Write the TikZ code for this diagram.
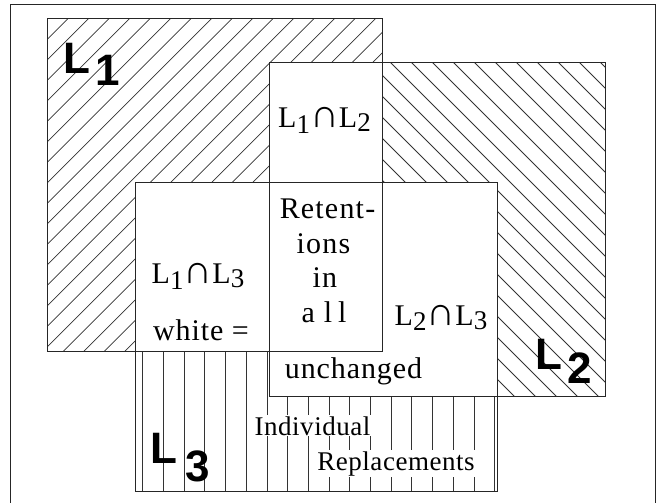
\documentclass[tikz,border=0pt]{standalone}
\usepackage{fontspec}
\setmainfont{Liberation Serif}
\newfontfamily\bigsans{Liberation Sans}
\newfontfamily\spacedA{Liberation Serif}[LetterSpace=3]
\newfontfamily\spacedB{Liberation Serif}[LetterSpace=4]
\newfontfamily\spacedC{Liberation Serif}[LetterSpace=2]
\newcommand\lowdig[2]{\raisebox{-#1pt}{\fontsize{27}{27}\selectfont #2}}
\newcommand\isect{{\fontsize{40}{40}\selectfont ∩}}
\begin{document}
\begin{tikzpicture}[x=1pt,y=-1pt,
  outline/.style={draw=black!85, line width=1pt},
  hatch/.style={draw=black!80, line width=0.75pt},
  txt/.style={font=\spacedA\fontsize{30}{30}\selectfont, inner sep=0pt, anchor=base},
  txtwide/.style={font=\spacedB\fontsize{30}{30}\selectfont, inner sep=0pt, anchor=base},
  txtsmall/.style={font=\spacedC\fontsize{27}{27}\selectfont, inner sep=1pt, anchor=base, fill=white},
  biglab/.style={font=\bigsans\bfseries\fontsize{44}{44}\selectfont, inner sep=0pt, anchor=base}]
\useasboundingbox (0,0) rectangle (659,503);
% outer frame
\draw[outline] (10,504) -- (10,5) -- (655,5) -- (655,504);
% L1-only hatching
\begin{scope}
\clip (47,19) -- (382,19) -- (382,63) -- (269,63) -- (269,182) -- (135,182) -- (135,351) -- (47,351) -- cycle;
\foreach \k in {0,...,33} {\draw[hatch] ({66.2+20.5*\k+60},-60) -- ({66.2+20.5*\k-600},600);}
\end{scope}
% L2-only hatching
\begin{scope}
\clip (382,63) -- (605,63) -- (605,396) -- (497,396) -- (497,182) -- (382,182) -- cycle;
\foreach \k in {0,...,27} {\draw[hatch] ({-29+21*\k-60},-60) -- ({-29+21*\k+600},600);}
\end{scope}
% L3-only hatching
\begin{scope}
\clip (135,351) -- (269,351) -- (269,396) -- (497,396) -- (497,491) -- (135,491) -- cycle;
\foreach \k in {0,...,17} {\draw[hatch] ({142.7+20.7*\k},340) -- ({142.7+20.7*\k},500);}
\end{scope}
% set outlines
\coordinate (a1) at (47,19);  \coordinate (b1) at (382,351);
\coordinate (a2) at (269,63); \coordinate (b2) at (605,396);
\coordinate (a3) at (135,182); \coordinate (b3) at (497,491);
\draw[outline] (a1) rectangle (b1);
\draw[outline] (a2) rectangle (b2);
\draw[outline] (a3) rectangle (b3);
% texts
\node[txt] (t12) at (324.5,127) {L\lowdig{6}{1}\isect L\lowdig{5}{2}};
\node[txtwide] (r1) at (327.5,218) {Retent-};
\node[txtwide] (r2) at (323.5,253) {ions};
\node[txtwide] (r3) at (325,287) {in};
\node[txtwide] (r4) at (324,322) {a\hspace{9pt}l\hspace{6pt}l};
\node[txt] (t13) at (198,283) {L\lowdig{6}{1}\isect L\lowdig{4}{3}};
\node[txt] (wh) at (201,340) {white =};
\node[txt] (t23) at (441,325) {L\lowdig{5}{2}\isect L\lowdig{4}{3}};
\node[txt] (un) at (353.5,378) {unchanged};
\node[txtsmall] (ind) at (312.5,435) {Individual};
\node[txtsmall] (rep) at (396,470) {Replacements};
% big set labels
\node[biglab] (L1) at (77,74) {L};
\node[biglab] (L1d) at (107.5,85) {1};
\node[biglab] (L2) at (549,369) {L};
\node[biglab] (L2d) at (580,383) {2};
\node[biglab] (L3) at (163.5,463) {L};
\node[biglab] (L3d) at (197.5,481) {3};
\end{tikzpicture}
\end{document}
